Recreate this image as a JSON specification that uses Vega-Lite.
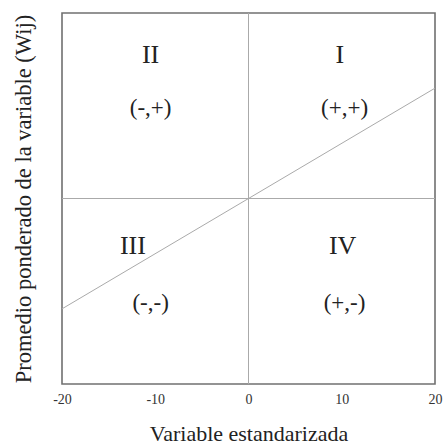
{
  "$schema": "https://vega.github.io/schema/vega-lite/v6.json",
  "width": 373,
  "height": 371,
  "autosize": {"type": "none"},
  "padding": {"left": 62, "top": 13, "right": 8, "bottom": 61},
  "background": "white",
  "config": {
    "view": {"stroke": "#707070", "strokeWidth": 1.6},
    "font": "Liberation Serif"
  },
  "datasets": {
    "lines": [
      {"x": 0, "y": -20, "x2": 0, "y2": 20, "name": "vertical"},
      {"x": -20, "y": 0, "x2": 20, "y2": 0, "name": "horizontal"},
      {"x": -20, "y": -11.9, "x2": 20, "y2": 11.9, "name": "diagonal"}
    ],
    "romans": [
      {"x": -10.5, "y": 15.5, "label": "II"},
      {"x": 9.8, "y": 15.5, "label": "I"},
      {"x": -12.4, "y": -5.1, "label": "III"},
      {"x": 10.1, "y": -5.1, "label": "IV"}
    ],
    "signs": [
      {"x": -10.5, "y": 9.8, "label": "(-,+)"},
      {"x": 10.3, "y": 9.8, "label": "(+,+)"},
      {"x": -10.5, "y": -11.3, "label": "(-,-)"},
      {"x": 10.3, "y": -11.3, "label": "(+,-)"}
    ]
  },
  "encoding": {
    "x": {
      "field": "x",
      "type": "quantitative",
      "scale": {"domain": [-20, 20], "nice": false, "zero": false},
      "axis": {
        "title": "Variable estandarizada",
        "values": [-20, -10, 0, 10, 20],
        "labelExpr": "'' + datum.value",
        "grid": false,
        "ticks": false,
        "domain": false,
        "labelFont": "Liberation Serif",
        "labelFontSize": 14,
        "labelColor": "#333333",
        "labelPadding": 8,
        "labelFlush": false,
        "labelBound": false,
        "labelOverlap": false,
        "titleFont": "Liberation Serif",
        "titleFontSize": 22,
        "titleFontWeight": "normal",
        "titleColor": "#222222",
        "titlePadding": 17
      }
    },
    "y": {
      "field": "y",
      "type": "quantitative",
      "scale": {"domain": [-20, 20], "nice": false, "zero": false},
      "axis": {
        "title": "Promedio ponderado de la variable (Wij)",
        "labels": false,
        "grid": false,
        "ticks": false,
        "domain": false,
        "titleFont": "Liberation Serif",
        "titleFontSize": 22.5,
        "titleFontWeight": "normal",
        "titleColor": "#222222",
        "titlePadding": 27
      }
    }
  },
  "layer": [
    {
      "data": {"name": "lines"},
      "mark": {"type": "rule", "color": "#aaaaaa", "strokeWidth": 1},
      "encoding": {
        "x2": {"field": "x2"},
        "y2": {"field": "y2"}
      }
    },
    {
      "data": {"name": "romans"},
      "mark": {"type": "text", "font": "Liberation Serif", "fontSize": 26, "color": "#222222", "baseline": "middle", "align": "center"},
      "encoding": {"text": {"field": "label"}}
    },
    {
      "data": {"name": "signs"},
      "mark": {"type": "text", "font": "Liberation Serif", "fontSize": 23, "color": "#222222", "baseline": "middle", "align": "center"},
      "encoding": {"text": {"field": "label"}}
    }
  ]
}
